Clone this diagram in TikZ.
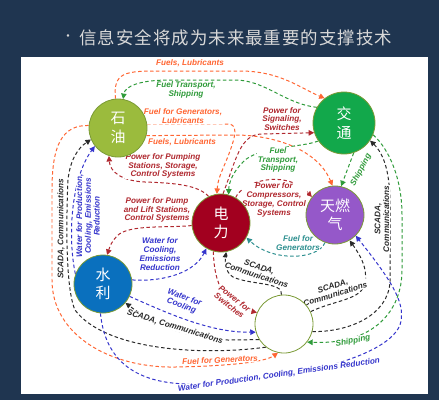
\documentclass[tikz,border=0pt]{standalone}
\usepackage{fontspec}
\newfontfamily\cjk{Noto Sans CJK SC}
\newfontfamily\titlefont[LetterSpace=6]{Noto Sans CJK SC}
\newfontfamily\lblfont{Liberation Sans}
\usepackage{tikz}
\usetikzlibrary{arrows.meta, positioning, backgrounds}

\definecolor{slidebg}{HTML}{1F3550}
\definecolor{titlegray}{HTML}{D8D8D8}
\definecolor{olivebd}{HTML}{7A9A35}
\definecolor{oilgreen}{HTML}{9BBB3D}
\definecolor{trafficgreen}{HTML}{12A84B}
\definecolor{powerred}{HTML}{A2001F}
\definecolor{gaspurple}{HTML}{9558C9}
\definecolor{waterblue}{HTML}{0A70BE}
\definecolor{orangeline}{HTML}{FF6633}
\definecolor{greenline}{HTML}{2F9B3A}
\definecolor{redline}{HTML}{B0282F}
\definecolor{blueline}{HTML}{3535CC}
\definecolor{tealline}{HTML}{2E9090}
\definecolor{blackline}{HTML}{2A2A2A}

\tikzset{
	labeltext/.style={font=\lblfont\bfseries\itshape\fontsize{8.2}{8.8}\selectfont, align=center, inner sep=0.5pt, fill=white}
}
\tikzset{
	flow/.style={dash pattern=on 3.5pt off 2.5pt, line width=1pt, -{Triangle[length=5.5pt,width=5.5pt]}}
}

\begin{document}
\begin{tikzpicture}[x=1bp, y=-1bp]
	\tikzset{
		sector/.style={
				shape=circle,
				draw=olivebd,
				line width=0.8pt,
				minimum size=58bp,
				inner sep=0pt,
				text=white,
				align=center,
				font=\cjk\fontsize{15}{18.5}\selectfont
			}
	}

	\useasboundingbox (0,0) rectangle (439,400);

	\node[text=titlegray, font=\cjk\fontsize{12}{12}\selectfont] (bullet) at (68,38) {•};
	\node[anchor=west, inner sep=0pt, text=titlegray, font=\titlefont\fontsize{17.5}{17.5}\selectfont] (title) at (79,38) {信息安全将成为未来最重要的支撑技术};

	\node[sector, fill=oilgreen] (oil) at (118,128) {石\\油};
	\node[sector, fill=trafficgreen, minimum size=62bp] (traffic) at (344,123) {交\\通};
	\node[sector, fill=powerred] (power) at (221,223) {电\\力};
	\node[sector, fill=gaspurple] (gas) at (335,215) {天燃\\气};
	\node[sector, fill=waterblue] (water) at (103,284) {水\\利};
	\node[sector, fill=white] (blank) at (284,324) {};

	\begin{pgfonlayer}{background}
	\fill[slidebg] (0,0) rectangle (439,400);
	\fill[white] (21,57) rectangle (428,394);

	\draw[flow, orangeline] (oil.95) .. controls (113,72) and (125,71) .. (160,71) -- (240,71) .. controls (280,71) and (300,88) .. (traffic.128);
	\draw[flow, greenline] (traffic.150) .. controls (285,104) and (265,80) .. (235,80) -- (170,80) .. controls (140,80) and (125,86) .. (oil.80);
	\draw[flow, orangeline] (oil.8) -- (228,124) .. controls (236,124) and (236,132) .. (233,142) .. controls (226,165) and (218,175) .. (power.98);
	\draw[flow, orangeline] (oil.345) -- (235,135) .. controls (275,135) and (318,150) .. (gas.95);
	\draw[flow, redline] (power.115) .. controls (198,185) and (175,183) .. (145,182) .. controls (122,181) and (110,172) .. (oil.252);
	\draw[flow, redline] (power.86) .. controls (236,160) and (240,134) .. (262,134) -- (traffic.198);
	\draw[flow, greenline] (traffic.215) .. controls (300,148) and (258,146) .. (243,162) .. controls (233,172) and (229,182) .. (power.75);
	\draw[flow, redline] (power.60) .. controls (242,182) and (285,168) .. (gas.142);
	\draw[flow, tealline] (gas.250) .. controls (318,260) and (272,262) .. (power.330);
	\draw[flow, redline] (power.185) .. controls (170,228) and (128,224) .. (117,236) .. controls (112,241) and (110,246) .. (water.82);
	\draw[flow, blueline] (water.8) .. controls (165,282) and (195,272) .. (power.240);
	\draw[flow, blueline] (water.160) .. controls (68,240) and (70,180) .. (oil.218);
	\draw[flow, blackline] (blank.232) .. controls (200,356) and (105,350) .. (75,310) .. controls (64,285) and (67,200) .. (68,180) .. controls (70,160) and (78,148) .. (oil.203);
	\draw[flow, orangeline] (oil.175) .. controls (62,125) and (52,145) .. (52,190) -- (52,280) .. controls (52,335) and (110,368) .. (175,367) .. controls (230,366) and (265,362) .. (blank.258);
	\draw[flow, blackline] (blank.212) -- (228,340) .. controls (180,338) and (148,320) .. (water.320);
	\draw[flow, blueline] (water.335) .. controls (165,312) and (210,333) .. (blank.196);
	\draw[flow, redline] (power.255) .. controls (214,285) and (225,305) .. (blank.157);
	\draw[flow, blackline] (blank.95) .. controls (284,282) and (250,285) .. (233,277) .. controls (225,272) and (225,262) .. (power.280);
	\draw[flow, blackline] (blank.25) .. controls (335,300) and (362,300) .. (365,283) .. controls (368,268) and (360,255) .. (gas.300);
	\draw[flow, blueline] (water.265) .. controls (105,360) and (135,385) .. (195,384) .. controls (270,383) and (385,362) .. (400,325) .. controls (406,305) and (395,285) .. (gas.315);
	\draw[flow, greenline] (traffic.288) -- (gas.78);
	\draw[flow, blackline] (blank.345) .. controls (350,332) and (388,315) .. (390,282) -- (390,205) .. controls (390,175) and (385,155) .. (traffic.326);
	\draw[flow, greenline] (traffic.338) .. controls (390,150) and (402,180) .. (402,215) -- (402,270) .. controls (402,310) and (375,345) .. (blank.322);

	\node[labeltext, text=orangeline] (fuelsTop) at (190,63) {Fuels, Lubricants};
	\node[labeltext, text=greenline] (transportTop) at (186,90) {Fuel Transport,\\Shipping};
	\node[labeltext, text=orangeline] (genLubes) at (183,116) {Fuel for Generators,\\Lubricants};
	\node[labeltext, text=orangeline] (fuelsMid) at (182,142) {Fuels, Lubricants};
	\node[labeltext, text=redline] (pumping) at (163,166) {Power for Pumping\\Stations, Storage,\\Control Systems};
	\node[labeltext, text=redline] (signaling) at (282,119) {Power for\\Signaling,\\Switches};
	\node[labeltext, text=greenline] (transportMid) at (278,160) {Fuel\\Transport,\\Shipping};
	\node[labeltext, text=redline] (compressors) at (274,200) {Power for\\Compressors,\\Storage, Control\\Systems};
	\node[labeltext, text=tealline] (genGas) at (298,243) {Fuel for\\Generators};
	\node[labeltext, text=redline] (pumpLift) at (157,210) {Power for Pump\\and Lift Stations,\\Control Systems};
	\node[labeltext, text=blueline] (coolingUp) at (160,254) {Water for\\Cooling,\\Emissions\\Reduction};
	\node[labeltext, text=blueline, rotate=90] (productionLeft) at (88,216) {Water for Production,\\Cooling, Emissions\\Reduction};
	\node[labeltext, text=blackline, rotate=90] (scadaLeft) at (61,229) {SCADA, Communications};
	\node[labeltext, text=blackline, rotate=-18] (scadaPower) at (258,271) {SCADA,\\Communications};
	\node[labeltext, text=blackline, rotate=17] (scadaGas) at (334,290) {SCADA,\\Communications};
	\node[labeltext, text=redline, rotate=-38] (switches) at (232,302) {Power for\\Switches};
	\node[labeltext, text=blueline, rotate=-20] (coolingDown) at (183,302) {Water for\\Cooling};
	\node[labeltext, text=blackline, rotate=-17] (scadaWater) at (175,327) {SCADA, Communications};
	\node[labeltext, text=orangeline, rotate=3] (genBottom) at (220,360) {Fuel for Generators};
	\node[labeltext, text=blueline, rotate=8] (productionBottom) at (279,375) {Water for Production, Cooling, Emissions Reduction};
	\node[labeltext, text=greenline, rotate=62] (shipGas) at (361,170) {Shipping};
	\node[labeltext, text=blackline, rotate=90] (scadaRight) at (382,219) {SCADA,\\Communications};
	\node[labeltext, text=greenline, rotate=10] (shipBottom) at (353,341) {Shipping};
	\end{pgfonlayer}
\end{tikzpicture}
\end{document}
